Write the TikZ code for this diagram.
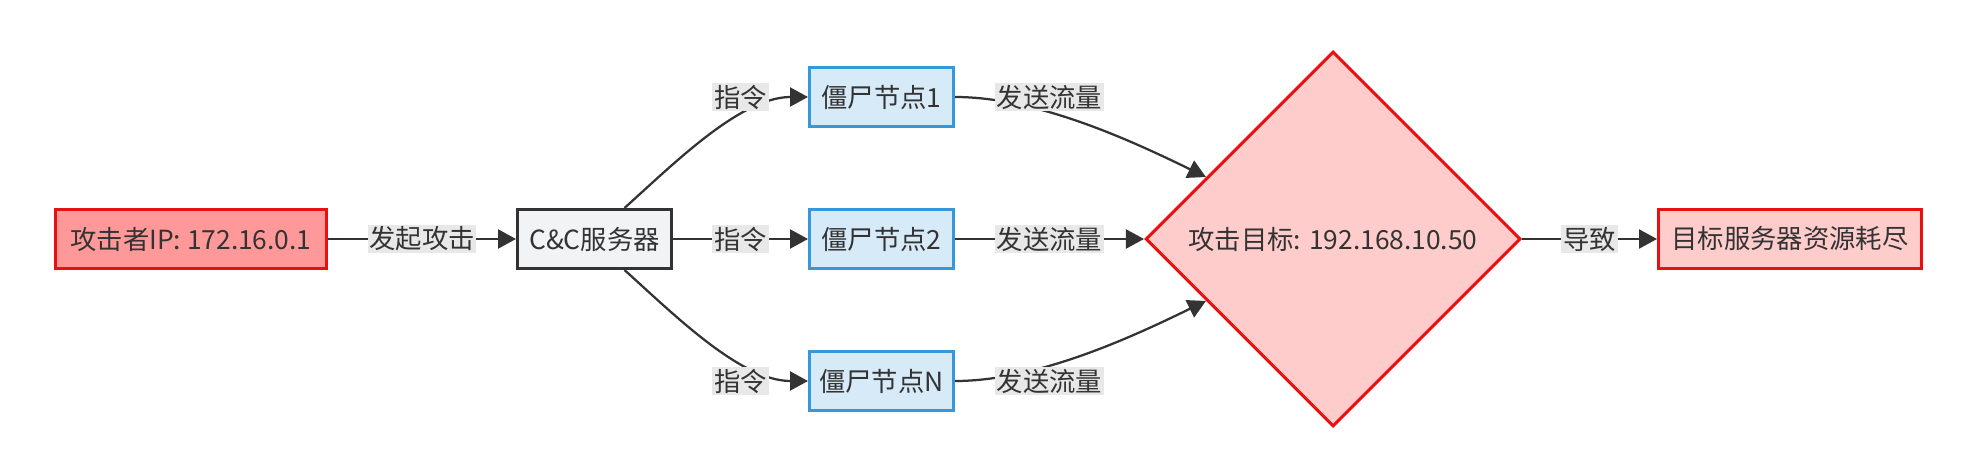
\documentclass[tikz,border=0pt]{standalone}
\usepackage{fontspec}
\setmainfont{Noto Sans CJK SC}
\usepackage{tikz}
\usetikzlibrary{shapes.geometric,arrows.meta,positioning}
\definecolor{linkgray}{HTML}{333333}
\definecolor{tagbg}{HTML}{E8E8E8}
\definecolor{atkfill}{HTML}{FF9999}
\definecolor{alarmred}{HTML}{E81010}
\definecolor{ccfill}{HTML}{F2F3F5}
\definecolor{botfill}{HTML}{D6EAF8}
\definecolor{botline}{HTML}{3498DB}
\definecolor{hitfill}{HTML}{FFCCCC}

\begin{document}
\begin{tikzpicture}[
    font=\fontsize{15}{18}\selectfont,
    node distance=0mm,
    box/.style={draw, line width=0.06cm, minimum height=1.18cm, inner sep=0pt, align=center, text=linkgray},
    attackbox/.style={box, draw=alarmred, fill=atkfill, minimum width=5.42cm},
    serverbox/.style={box, draw=linkgray, fill=ccfill, minimum width=3.08cm},
    botbox/.style={box, draw=botline, fill=botfill, minimum width=2.88cm},
    hitbox/.style={box, draw=alarmred, fill=hitfill, minimum width=5.26cm},
    target/.style={diamond, aspect=1, draw=alarmred, fill=hitfill, line width=0.06cm, minimum width=7.5cm, minimum height=7.5cm, inner sep=0pt, text=linkgray},
    link/.style={-{Triangle[length=0.36cm,width=0.38cm]}, line width=0.045cm, draw=linkgray},
    tag/.style={fill=tagbg, inner sep=1pt, text=linkgray}
]
\useasboundingbox (-3.82,-4.60) rectangle (35.56,4.78);

\node[attackbox] (attacker) at (0,0) {攻击者IP: 172.16.0.1};
\node[serverbox, right=3.76cm of attacker] (cc) {C\&C服务器};
\node[botbox, right=2.7cm of cc] (bot2) {僵尸节点2};
\node[botbox, above=1.6cm of bot2] (bot1) {僵尸节点1};
\node[botbox, below=1.6cm of bot2] (botn) {僵尸节点N};
\node[target, right=3.78cm of bot2] (victim) {攻击目标: 192.168.10.50};
\node[hitbox, right=2.7cm of victim] (result) {目标服务器资源耗尽};

\foreach \a/\b/\t in {attacker/cc/发起攻击, cc/bot2/指令, bot2/victim/发送流量, victim/result/导致}
  \draw[link] (\a) -- node[tag] (tag-\a) {\t} (\b);

% fan out to the upper and lower bots
\coordinate (ccup) at ([xshift=0.6cm]cc.north);
\coordinate (ccdown) at ([xshift=0.6cm]cc.south);
\draw[link] (ccup) to[out=42, in=180, looseness=0.8] (bot1.west);
\draw[link] (ccdown) to[out=-42, in=180, looseness=0.8] (botn.west);
\draw[link] (bot1.east) to[out=0, in=154, looseness=0.8] (victim);
\draw[link] (botn.east) to[out=0, in=-154, looseness=0.8] (victim);

\node[tag] (tag-bot1a) at (tag-cc |- bot1) {指令};
\node[tag] (tag-botna) at (tag-cc |- botn) {指令};
\node[tag] (tag-bot1b) at (tag-bot2 |- bot1) {发送流量};
\node[tag] (tag-botnb) at (tag-bot2 |- botn) {发送流量};
\end{tikzpicture}
\end{document}
